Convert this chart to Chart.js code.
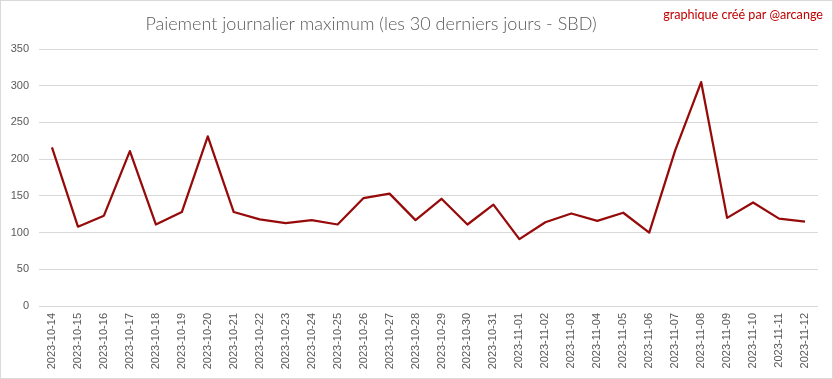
<!DOCTYPE html>
<html>
<head>
<meta charset="utf-8">
<script src="https://cdn.jsdelivr.net/npm/chart.js@4.4.0/dist/chart.umd.min.js"></script>
<style>
  html, body { margin: 0; padding: 0; background: #ffffff; }
  #wrap { position: relative; width: 833px; height: 379px; }
</style>
</head>
<body>
<div id="wrap"><canvas id="c" width="833" height="379"></canvas></div>
<script>
const categories = [
  "2023-10-14","2023-10-15","2023-10-16","2023-10-17","2023-10-18","2023-10-19",
  "2023-10-20","2023-10-21","2023-10-22","2023-10-23","2023-10-24","2023-10-25",
  "2023-10-26","2023-10-27","2023-10-28","2023-10-29","2023-10-30","2023-10-31",
  "2023-11-01","2023-11-02","2023-11-03","2023-11-04","2023-11-05","2023-11-06",
  "2023-11-07","2023-11-08","2023-11-09","2023-11-10","2023-11-11","2023-11-12"
];
const maxPayout = [
  216, 108, 123, 211, 111, 128,
  231, 128, 118, 113, 117, 111,
  147, 153, 117, 146, 111, 138,
  91, 114, 126, 116, 127, 100,
  212, 305, 120, 141, 119, 115
];
const yTicks = [0, 50, 100, 150, 200, 250, 300, 350];
const titleText = "Paiement journalier maximum (les 30 derniers jours - SBD)";
const creditText = "graphique créé par @arcange";

const decor = {
  id: 'decor',
  afterDraw(chart) {
    const ctx = chart.ctx;
    ctx.save();
    ctx.strokeStyle = '#d9d9d9';
    ctx.lineWidth = 1;
    ctx.strokeRect(0.5, 0.5, chart.width - 1, chart.height - 1);
    ctx.fillStyle = '#595959';
    ctx.font = '300 18px Lato';
    ctx.textAlign = 'center';
    ctx.textBaseline = 'middle';
    ctx.fillText(titleText, 371, 24);
    ctx.fillStyle = '#c00000';
    ctx.font = '12.6px Lato';
    ctx.textAlign = 'right';
    ctx.fillText(creditText, 823, 15);
    ctx.restore();
  }
};

new Chart(document.getElementById('c'), {
  type: 'line',
  data: {
    labels: categories,
    datasets: [{
      label: 'Paiement max',
      data: maxPayout,
      borderColor: '#960a0a',
      borderWidth: 2.25,
      pointRadius: 0,
      tension: 0,
      fill: false,
      borderJoinStyle: 'round'
    }]
  },
  options: {
    responsive: false,
    animation: false,
    devicePixelRatio: 1,
    layout: { padding: { left: 0, right: 15, top: 49, bottom: 0 } },
    plugins: { legend: { display: false }, tooltip: { enabled: false }, title: { display: false } },
    scales: {
      x: {
        offset: true,
        grid: { display: false, drawTicks: false },
        border: { display: false },
        ticks: {
          autoSkip: false, minRotation: 90, maxRotation: 90, padding: 7,
          color: '#595959', font: { family: 'Liberation Sans', size: 11 }
        },
        afterFit(scale) { scale.height = 73; }
      },
      y: {
        min: 0, max: 350,
        afterBuildTicks(scale) { scale.ticks = yTicks.map(v => ({ value: v })); },
        grid: { color: '#d9d9d9', lineWidth: 1, drawTicks: false },
        border: { display: false },
        ticks: {
          padding: 10, color: '#595959',
          font: { family: 'Liberation Sans', size: 11 }
        },
        afterFit(scale) { scale.width = 39; }
      }
    }
  },
  plugins: [decor]
});
</script>
</body>
</html>
